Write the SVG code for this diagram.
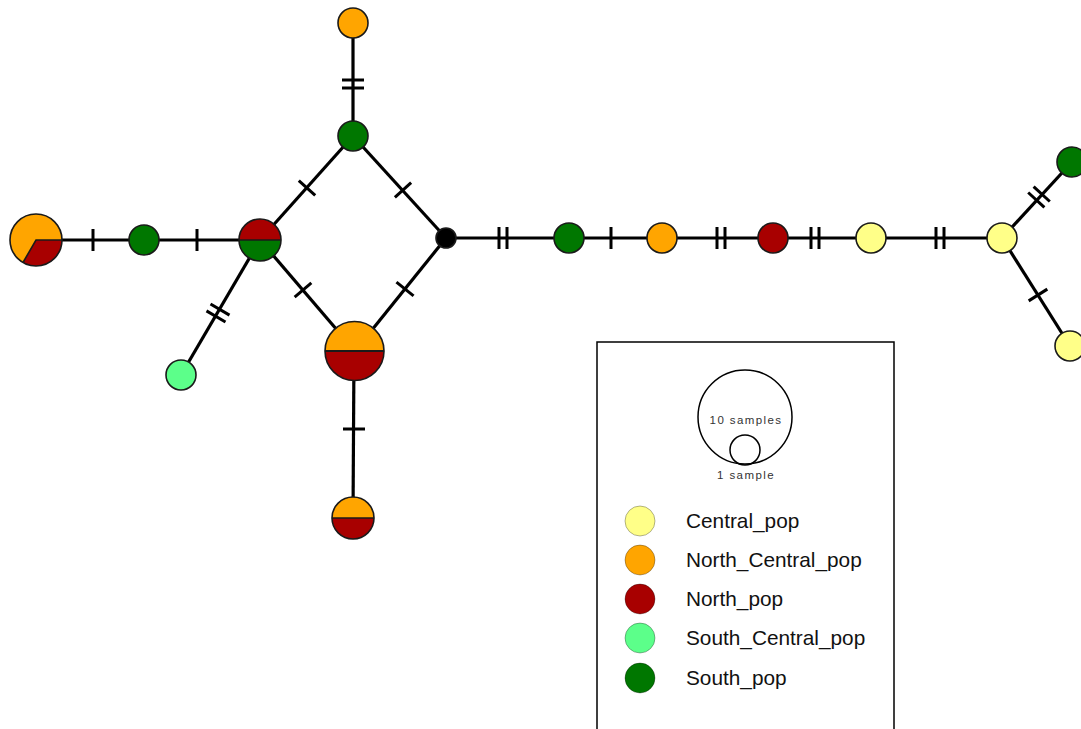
<svg xmlns="http://www.w3.org/2000/svg" xmlns:xlink="http://www.w3.org/1999/xlink" width="1081" height="729" viewBox="0 0 1081 729">
<defs>
<style>
.edge{stroke:#000;stroke-width:3.2;fill:none}
.tick{stroke:#000;stroke-width:3}
.node{stroke:#1a1a1a;stroke-width:1.6}
.yel{fill:#FFFF88}.ora{fill:#FFA500}.red{fill:#A80000}.lgr{fill:#5CFF8A}.grn{fill:#007700}.blk{fill:#000}
.lg{stroke:#000;stroke-opacity:0.3;stroke-width:1}
.lbl{font-family:"Liberation Sans",Arial,sans-serif;font-size:20.8px;fill:#111}
.sm{font-family:"Liberation Sans",Arial,sans-serif;font-size:11.5px;fill:#333;letter-spacing:1.4px;text-anchor:middle}
</style>
<line id="t1" x1="0" y1="-11" x2="0" y2="11" class="tick"/>
<g id="t2"><line x1="-4" y1="-11" x2="-4" y2="11" class="tick"/><line x1="4" y1="-11" x2="4" y2="11" class="tick"/></g>
</defs>
<rect width="1081" height="729" fill="#fff"/>
<g id="connectors">
<line class="edge" x1="36" y1="240" x2="260" y2="240"/>
<line class="edge" x1="260" y1="240" x2="353" y2="136"/>
<line class="edge" x1="353" y1="23" x2="353" y2="136"/>
<line class="edge" x1="353" y1="136" x2="446" y2="238"/>
<line class="edge" x1="260" y1="240" x2="355" y2="351"/>
<line class="edge" x1="446" y1="238" x2="355" y2="351"/>
<line class="edge" x1="260" y1="240" x2="181" y2="375"/>
<line class="edge" x1="354" y1="351" x2="353" y2="518"/>
<line class="edge" x1="446" y1="238" x2="1002" y2="238"/>
<line class="edge" x1="1002" y1="238" x2="1072" y2="162"/>
<line class="edge" x1="1002" y1="238" x2="1070" y2="346"/>
<use href="#t1" transform="translate(93,240)"/>
<use href="#t1" transform="translate(197,240)"/>
<use href="#t2" transform="translate(353,84) rotate(90)"/>
<use href="#t1" transform="translate(307,188) rotate(-48.2)"/>
<use href="#t1" transform="translate(403,190) rotate(47.6)"/>
<use href="#t1" transform="translate(303,290) rotate(49.4)"/>
<use href="#t1" transform="translate(405,289) rotate(129)"/>
<use href="#t2" transform="translate(218,313) rotate(120.3)"/>
<use href="#t1" transform="translate(354,429) rotate(90)"/>
<use href="#t2" transform="translate(503,238)"/>
<use href="#t1" transform="translate(611,238)"/>
<use href="#t2" transform="translate(721,238)"/>
<use href="#t2" transform="translate(815,238)"/>
<use href="#t2" transform="translate(940,238)"/>
<use href="#t2" transform="translate(1039,197) rotate(-47.4)"/>
<use href="#t1" transform="translate(1038,295) rotate(57.8)"/>
</g>
<g id="n-left-pie">
<circle cx="36" cy="240" r="26" class="ora"/>
<path d="M36,240 L62,240 A26,26 0 0 1 23,262.5 Z" class="red"/>
<path d="M62,240 L36,240 L23,262.5" fill="none" stroke="#1a1a1a" stroke-width="1.6"/>
<circle cx="36" cy="240" r="26" fill="none" class="node"/>
</g>
<g id="n-green1"><circle cx="144" cy="240" r="15" class="node grn"/></g>
<g id="n-redgreen">
<path d="M239,240 A21,21 0 0 1 281,240 Z" class="red"/>
<path d="M281,240 A21,21 0 0 1 239,240 Z" class="grn"/>
<line x1="239" y1="240" x2="281" y2="240" stroke="#1a1a1a" stroke-width="1.6"/>
<circle cx="260" cy="240" r="21" fill="none" class="node"/>
</g>
<g id="n-top-orange"><circle cx="353" cy="23" r="15" class="node ora"/></g>
<g id="n-top-green"><circle cx="353" cy="136" r="15" class="node grn"/></g>
<g id="n-black"><circle cx="446" cy="238" r="10" class="node blk"/></g>
<g id="n-big-pie">
<path d="M325,351 A29.5,29.5 0 0 1 384,351 Z" class="ora"/>
<path d="M384,351 A29.5,29.5 0 0 1 325,351 Z" class="red"/>
<line x1="325" y1="351" x2="384" y2="351" stroke="#1a1a1a" stroke-width="1.8"/>
<circle cx="354.5" cy="351" r="29.5" fill="none" class="node" stroke-width="2"/>
</g>
<g id="n-bottom-pie">
<path d="M332,518 A21,21 0 0 1 374,518 Z" class="ora"/>
<path d="M374,518 A21,21 0 0 1 332,518 Z" class="red"/>
<line x1="332" y1="518" x2="374" y2="518" stroke="#1a1a1a" stroke-width="1.6"/>
<circle cx="353" cy="518" r="21" fill="none" class="node"/>
</g>
<g id="n-lightgreen"><circle cx="181" cy="375" r="15" class="node lgr"/></g>
<g id="n-green2"><circle cx="569" cy="238" r="15" class="node grn"/></g>
<g id="n-orange2"><circle cx="662" cy="238" r="15" class="node ora"/></g>
<g id="n-red2"><circle cx="773" cy="238" r="15" class="node red"/></g>
<g id="n-yellow1"><circle cx="871" cy="238" r="15" class="node yel"/></g>
<g id="n-yellow2"><circle cx="1002" cy="238" r="15" class="node yel"/></g>
<g id="n-green3"><circle cx="1072" cy="162" r="15" class="node grn"/></g>
<g id="n-yellow3"><circle cx="1070" cy="346" r="15" class="node yel"/></g>
<g id="legend">
<rect x="597" y="342" width="297" height="400" fill="#fff" stroke="#000" stroke-width="1.5"/>
<circle cx="745" cy="417" r="47" fill="none" stroke="#000" stroke-width="1.5"/>
<circle cx="745" cy="450" r="15" fill="none" stroke="#000" stroke-width="1.5"/>
<text x="746" y="424" class="sm">10 samples</text>
<text x="746" y="479" class="sm">1 sample</text>
<circle cx="640" cy="521" r="15" class="lg yel"/>
<circle cx="640" cy="560" r="15" class="lg ora"/>
<circle cx="640" cy="599" r="15" class="lg red"/>
<circle cx="640" cy="638" r="15" class="lg lgr"/>
<circle cx="640" cy="678" r="15" class="lg grn"/>
<text x="686" y="528" class="lbl">Central_pop</text>
<text x="686" y="567" class="lbl">North_Central_pop</text>
<text x="686" y="606" class="lbl">North_pop</text>
<text x="686" y="645" class="lbl">South_Central_pop</text>
<text x="686" y="685" class="lbl">South_pop</text>
</g>
</svg>
